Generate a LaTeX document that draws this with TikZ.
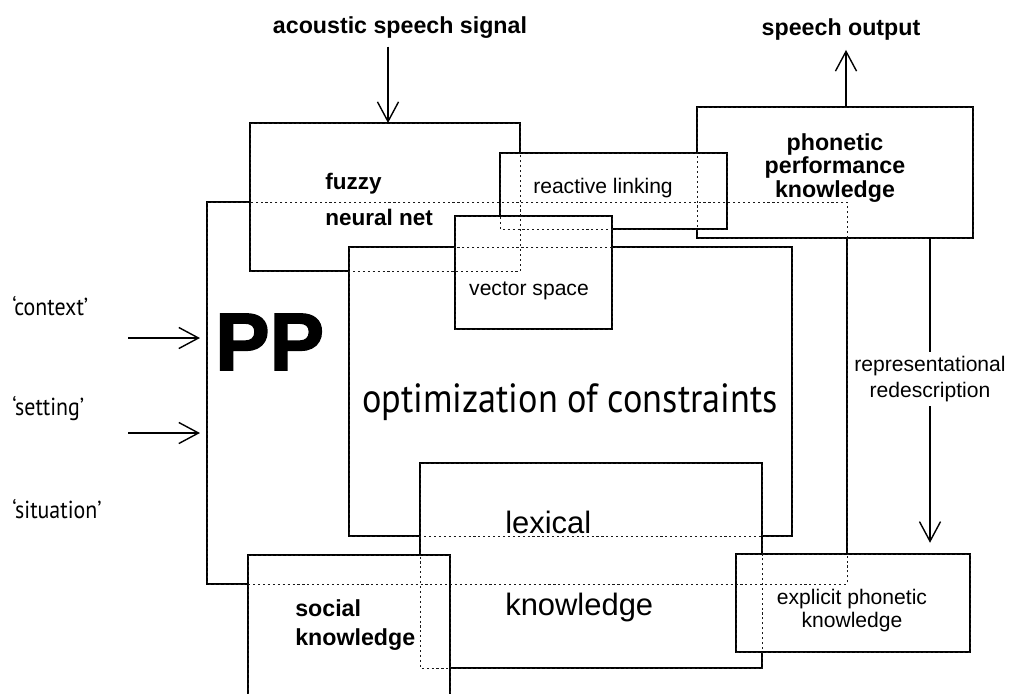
\documentclass[tikz,border=0pt]{standalone}
\usepackage{fontspec}
\setmainfont{Liberation Sans}
\newfontfamily\humfont[FakeStretch=0.89]{PT Sans}
\newfontfamily\heavyfont[FakeBold=2]{Liberation Sans}
\usetikzlibrary{arrows.meta, fit}
\tikzset{
  box/.style={rectangle, draw=black, fill=white, line width=1.4pt,
              inner sep=0pt, outer sep=0pt},
  hidden/.style={draw=black!90, line width=0.6pt, dash pattern=on 1.5pt off 2pt},
  arrow/.style={-{Straight Barb[length=14pt, width=15pt]}, line width=1pt},
  boldtxt/.style={font=\bfseries\fontsize{16.5}{19}\selectfont, inner sep=0pt},
  plaintxt/.style={font=\fontsize{15}{17}\selectfont, inner sep=0pt},
  humtxt/.style={font=\humfont\fontsize{17.5}{20}\selectfont, inner sep=0pt},
}

\begin{document}
\begin{tikzpicture}[x=0.025cm, y=-0.025cm]
  \useasboundingbox (0,0) rectangle (1011,693);
  \clip (0,0) rectangle (1011,693);
  % boxes, lowest first
  \node[box, fit={(207,202) (847,584)}] (ppbox) {};
  \node[box, fit={(250,123) (520,271)}] (fuzzy) {};
  \node[box, fit={(349,247) (792,536)}] (opt) {};
  \node[box, fit={(697,107) (973,238)}] (phon) {};
  \node[box, fit={(500,153) (727,229)}] (react) {};
  \node[box, fit={(455,216) (612,329)}] (vec) {};
  \node[box, fit={(420,463) (762,668)}] (lex) {};
  \node[box, fit={(736,554) (970,652)}] (expl) {};
  \node[box, fit={(248,555) (450,710)}] (social) {};
  \foreach \b in {ppbox, fuzzy, opt, phon, react, vec, lex, expl, social}
    \draw[hidden] (\b.north west) rectangle (\b.south east);

  \node[boldtxt, anchor=base] (asig) at (400,33) {acoustic speech signal};
  \node[boldtxt, anchor=base] (sout) at (841,35) {speech output};
  \node[boldtxt, anchor=base west, align=left,
        font=\bfseries\fontsize{16}{25}\selectfont] (fuzzytxt) at (325,225) {fuzzy\\neural net};
  \node[plaintxt, anchor=base] (reacttxt) at (603,193) {reactive linking};
  \node[plaintxt, anchor=base] (vectxt) at (529,295) {vector space};
  \node[boldtxt, anchor=base, align=center,
        font=\bfseries\fontsize{16.5}{16.7}\selectfont] (phontxt) at (835,197) {phonetic\\performance\\knowledge};
  \node[anchor=base west, inner sep=0pt,
        font=\heavyfont\bfseries\fontsize{58}{62}\selectfont] (pptxt) at (215,370) {PP};
  \node[humtxt, anchor=base, font=\humfont\fontsize{29}{32}\selectfont] (opttxt) at (570,412) {optimization of constraints};
  \node[humtxt, anchor=base west] (ctx) at (12,315) {‘context’};
  \node[humtxt, anchor=base west] (sett) at (12,415) {‘setting’};
  \node[humtxt, anchor=base west] (situ) at (12,518) {‘situation’};
  \node[plaintxt, anchor=base west, align=left,
        font=\fontsize{22}{58}\selectfont] (lextxt) at (505,615) {lexical\\knowledge};
  \node[boldtxt, anchor=base west, align=left,
        font=\bfseries\fontsize{16.5}{20}\selectfont] (soctxt) at (295,645) {social\\knowledge};
  \node[plaintxt, anchor=base, align=center,
        font=\fontsize{15}{16.3}\selectfont] (expltxt) at (852,627) {explicit phonetic\\knowledge};

  \coordinate (ain) at (388,123);
  \coordinate (aout) at (846,107);
  \coordinate (c1) at (128,338);
  \coordinate (c2) at (128,433);
  \coordinate (r1) at (930,238);
  \draw[arrow, shorten <=6pt] (ain |- asig.south) -- (ain);
  \draw[arrow, shorten >=7pt] (aout) -- (aout |- sout.south);
  \draw[arrow, shorten >=5pt] (c1) -- (c1 -| ppbox.west);
  \draw[arrow, shorten >=5pt] (c2) -- (c2 -| ppbox.west);
  \draw[arrow, shorten >=8pt] (r1) -- (r1 |- expl.north);
  \node[plaintxt, anchor=base, align=center, fill=white, inner sep=3pt,
        font=\fontsize{15}{17.8}\selectfont] (redtxt) at (930,397) {representational\\redescription};
\end{tikzpicture}
\end{document}
